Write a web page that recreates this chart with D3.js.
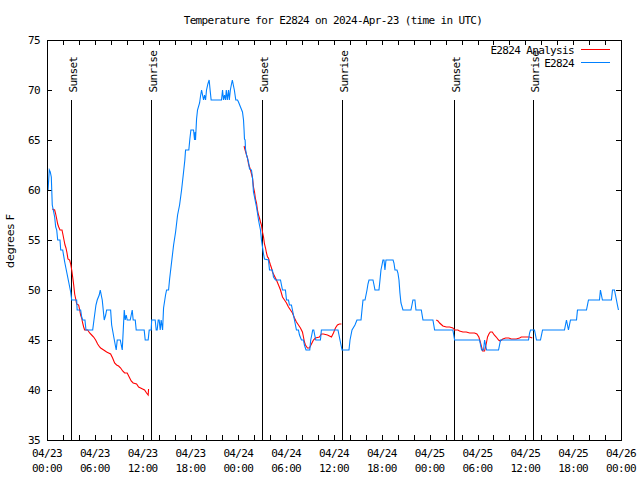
<!DOCTYPE html>
<html>
<head>
<meta charset="utf-8">
<script src="https://cdn.jsdelivr.net/npm/d3@7"></script>
<style>
  html, body { margin: 0; padding: 0; background: #fff; }
  svg { display: block; }
  .mono { font-family: "DejaVu Sans Mono", "Liberation Mono", monospace; font-size: 11px; letter-spacing: -0.65px; fill: #000; }
</style>
</head>
<body>
<svg id="chart" width="640" height="480"></svg>
<script>
// ---------------- data (hours since 2024-04-23 00:00 UTC, degrees F) ----------------
const title = "Temperature for E2824 on 2024-Apr-23 (time in UTC)";
const yLabel = "degrees F";
const seriesNames = ["E2824 Analysis", "E2824"];
const yTicks = [35, 40, 45, 50, 55, 60, 65, 70, 75];
const xTickDays  = ["04/23","04/23","04/23","04/23","04/24","04/24","04/24","04/24","04/25","04/25","04/25","04/25","04/26"];
const xTickTimes = ["00:00","06:00","12:00","18:00","00:00","06:00","12:00","18:00","00:00","06:00","12:00","18:00","00:00"];
const sunsetHours  = [3.05, 26.98, 51.04];
const sunriseHours = [13.07, 37.0, 60.94];

// observed station temperatures
const e2824 = [
 [0.13,60],[0.29,62],[0.41,61.8],[0.54,61.3],[0.66,58.5],[0.79,58],[0.96,57.3],[1.09,56.3],[1.22,56],[1.34,55],
 [1.63,55],[1.72,54],[1.97,54],[2.22,52.8],[2.47,51.8],[2.72,50.8],[2.97,49.8],[3.10,49],[3.72,49],[3.78,48],
 [4.22,48],[4.35,47.3],[4.47,47],[4.76,47],[4.89,46],[5.73,46],[5.89,47],[6.14,48.5],[6.30,49],[6.55,49.5],
 [6.68,50],[6.93,49],[7.18,47],[7.36,47.5],[7.48,48],[7.98,48],[8.11,46.5],[8.40,45.2],[8.68,44],[8.81,45],
 [9.19,45],[9.44,44],[9.69,48],[9.81,47],[9.94,47.5],[10.06,47],[10.44,47],[10.69,48],[10.81,47],[11.07,47],
 [11.19,46],[12.19,46],[12.32,45],[12.69,45],[12.82,46],[13.07,46],[13.13,47],[13.57,47],[13.70,46],[13.82,46],
 [13.95,47],[14.07,47],[14.20,46],[14.32,47],[14.50,46],[14.62,48.2],[14.87,49.5],[15.00,50],[15.25,50],[15.38,51.1],
 [15.63,52.8],[15.88,54.5],[16.13,55.8],[16.38,57.5],[16.63,58.5],[16.88,60],[17.13,61.8],[17.29,63],[17.38,64],[17.79,64],
 [17.92,65.1],[18.05,66],[18.38,66],[18.51,65],[18.58,65.8],[18.63,65],[18.76,67.1],[18.88,68],[19.14,68.7],[19.26,69.4],
 [19.39,70],[19.51,69.5],[19.64,69],[19.76,69.5],[19.89,69],[20.01,70],[20.18,70.6],[20.34,71],[20.46,70],[20.59,69],
 [21.89,69],[22.02,70],[22.14,69],[22.27,69.5],[22.39,69],[22.49,70],[22.62,69],[22.77,70],[22.87,69],[23.00,70],
 [23.12,70.5],[23.25,71],[23.37,70.5],[23.50,70],[23.68,69],[23.90,69],[24.02,68.8],[24.27,68.3],[24.52,67.8],[24.65,67],
 [24.72,66],[24.77,65.1],[24.85,65],[24.90,64.1],[25.03,63.5],[25.28,62.8],[25.40,62.1],[25.65,62],[25.78,61.2],[25.90,59.8],
 [26.03,59.3],[26.15,58.8],[26.28,58.3],[26.40,57.7],[26.53,57],[26.65,56.5],[26.78,56],[26.90,55],[27.03,54.3],[27.16,53.6],
 [27.28,53.1],[27.78,53],[27.91,52],[28.28,52],[28.41,51.3],[28.66,51],[29.29,51],[29.41,50.5],[29.54,50],[29.91,50],
 [30.04,49],[30.29,49],[30.41,48.5],[30.66,48.5],[30.79,48],[31.04,47],[31.29,46],[31.54,46],[31.67,45.5],[31.92,45],
 [32.17,45],[32.29,44.5],[32.49,44],[32.96,44],[33.08,45],[33.21,45.5],[33.33,46],[33.46,46],[33.58,45.5],[33.71,45],
 [34.30,45],[34.42,46],[36.50,46],[36.75,45],[36.88,44.5],[37.01,44],[37.88,44],[38.01,45],[38.26,46],[38.63,46.5],
 [38.88,47],[39.39,47],[39.51,48],[39.64,49],[39.89,49],[40.14,50],[40.26,50.6],[40.39,51],[40.89,51],[41.02,50.5],
 [41.14,50],[41.64,50],[41.77,51],[41.89,52],[42.02,52.5],[42.14,53],[42.27,53],[42.39,52],[42.52,53],[43.41,53],
 [43.52,52.7],[43.65,52],[43.90,52],[44.02,51.7],[44.15,51],[44.27,49.7],[44.40,48.7],[44.65,48],[45.65,48],[45.78,48.5],
 [45.90,49],[46.15,49],[46.28,48],[46.95,48],[47.16,47],[48.41,47],[48.62,46],[50.91,46],[51.13,45],[54.26,45],
 [54.51,44],[54.76,44],[54.89,45],[55.01,44.5],[55.14,44],[56.64,44],[56.89,45],[60.40,45],[60.53,45.7],[60.65,46],
 [61.15,46],[61.40,45],[61.90,45],[62.16,46],[64.91,46],[65.16,47],[65.41,46],[65.66,47],[66.42,47],[66.54,48],
 [67.67,48],[67.92,49],[69.30,49],[69.42,50],[69.67,49],[70.80,49],[70.93,50],[71.18,50],[71.43,49],[71.55,48.5],
 [71.68,48]
];

// analysis (three separate overnight segments)
const analysisNight1 = [
 [0.66,58.1],[0.96,58],[1.09,57.6],[1.22,57.1],[1.34,56.6],[1.47,56.3],[1.63,56],[1.88,56],[2.01,55.5],[2.13,55],
 [2.26,54.5],[2.38,54.2],[2.51,53.7],[2.63,53.1],[2.84,53],[2.97,52.6],[3.10,52],[3.22,51.3],[3.35,50.5],[3.47,49.6],
 [3.60,49.1],[3.72,48.6],[3.97,48.5],[4.10,48],[4.22,47.5],[4.35,47.2],[4.47,46.7],[4.60,46.3],[4.72,46],[5.10,46],
 [5.35,45.7],[5.60,45.5],[5.85,45.3],[6.10,45],[6.35,44.6],[6.60,44.3],[6.73,44.2],[7.11,44],[7.48,43.8],[7.73,43.7],
 [7.98,43.6],[8.23,43.2],[8.48,42.7],[8.73,42.5],[8.98,42.4],[9.24,42.2],[9.49,41.9],[9.74,41.7],[10.06,41.7],[10.31,41.3],
 [10.56,40.9],[10.81,40.7],[11.24,40.6],[11.49,40.3],[11.74,40.2],[11.99,40.1],[12.24,40],[12.49,39.7],[12.69,39.5],[12.74,40.1]
];
const analysisNight2 = [
 [24.72,64.4],[24.85,64],[25.03,63.5],[25.15,63.2],[25.28,62.6],[25.53,62],[25.78,61.2],[25.90,60.3],[26.03,59.8],[26.15,59.1],
 [26.28,58.7],[26.40,58],[26.53,57.5],[26.65,57.2],[26.78,56.8],[26.90,56.5],[27.03,55.8],[27.16,55.3],[27.28,54.6],[27.41,54.2],
 [27.53,53.7],[27.66,53.3],[27.78,53.2],[27.91,52.8],[28.03,52.5],[28.16,52.2],[28.28,51.8],[28.78,51],[29.04,50.5],[29.29,50],
 [29.54,49.3],[29.79,49],[30.04,48.7],[30.29,48.3],[30.54,48],[30.79,47.7],[31.04,47.2],[31.29,46.8],[31.54,46.5],[31.79,46.2],
 [32.04,45.8],[32.17,45.3],[32.29,44.8],[32.42,44.5],[32.67,44.2],[32.92,44.2],[33.17,44.6],[33.42,45],[33.67,45.2],[34.17,45.3],
 [34.42,45.6],[34.67,45.6],[35.18,45.5],[35.43,45.4],[35.68,45.3],[35.93,45.7],[36.18,46.2],[36.43,46.5],[36.68,46.6],[36.93,46.6]
];
const analysisNight3 = [
 [48.83,47],[49.04,46.9],[49.25,46.7],[49.66,46.4],[50.09,46.3],[50.50,46.3],[50.91,46.2],[51.13,46],[51.54,46],[51.75,45.9],
 [52.17,45.8],[52.59,45.8],[53.01,45.7],[53.63,45.7],[53.92,45.6],[54.17,45.3],[54.35,44.8],[54.51,44.3],[54.64,43.9],[54.89,43.9],
 [55.01,44.3],[55.14,44.8],[55.26,45.3],[55.43,45.6],[55.60,45.8],[55.85,45.8],[56.10,45.5],[56.35,45.3],[56.64,45],[56.85,44.9],
 [57.18,45.1],[57.52,45.2],[57.93,45.2],[58.23,45.1],[58.86,45.1],[59.27,45.2],[59.49,45.3],[60.11,45.3],[60.53,45.3],[60.87,45.2]
];

// ---------------- drawing ----------------
const W = 640, H = 480;
const plot = { left: 47, right: 621, top: 40, bottom: 440 };
const start = Date.UTC(2024, 3, 23, 0, 0);
const toDate = h => new Date(start + h * 3600e3);

const x = d3.scaleUtc().domain([toDate(0), toDate(72)]).range([plot.left, plot.right]);
const y = d3.scaleLinear().domain([35, 75]).range([plot.bottom, plot.top]);

const svg = d3.select("#chart");
svg.append("rect").attr("width", W).attr("height", H).attr("fill", "#fff");

const tickHours = d3.range(0, 73, 2);
const labelHours = d3.range(0, 73, 6);
const TL = 5;

const axes = svg.append("g").attr("shape-rendering", "crispEdges").attr("stroke", "#000").attr("stroke-width", 1);
// x ticks bottom & top (inward)
axes.selectAll("line.xb").data(tickHours).join("line")
  .attr("x1", h => Math.round(x(toDate(h))) + 0.5).attr("x2", h => Math.round(x(toDate(h))) + 0.5)
  .attr("y1", plot.bottom).attr("y2", plot.bottom - TL);
axes.selectAll("line.xt").data(tickHours).join("line")
  .attr("x1", h => Math.round(x(toDate(h))) + 0.5).attr("x2", h => Math.round(x(toDate(h))) + 0.5)
  .attr("y1", plot.top).attr("y2", plot.top + TL);
// y ticks left & right
axes.selectAll("line.yl").data(yTicks).join("line")
  .attr("x1", plot.left).attr("x2", plot.left + TL)
  .attr("y1", d => Math.round(y(d)) + 0.5).attr("y2", d => Math.round(y(d)) + 0.5);
axes.selectAll("line.yr").data(yTicks).join("line")
  .attr("x1", plot.right).attr("x2", plot.right - TL)
  .attr("y1", d => Math.round(y(d)) + 0.5).attr("y2", d => Math.round(y(d)) + 0.5);

// tick labels
svg.selectAll("text.ytl").data(yTicks).join("text").attr("class", "mono")
  .attr("x", plot.left - 7).attr("y", d => y(d) + 4).attr("text-anchor", "end").text(d => d);
const xl = svg.selectAll("g.xtl").data(labelHours).join("g")
  .attr("transform", h => `translate(${x(toDate(h))},0)`);
xl.append("text").attr("class", "mono").attr("text-anchor", "middle").attr("y", 457).text((h, i) => xTickDays[i]);
xl.append("text").attr("class", "mono").attr("text-anchor", "middle").attr("y", 472).text((h, i) => xTickTimes[i]);

// sunrise / sunset markers
const sunEvents = sunsetHours.map(h => ({ h, label: "Sunset" }))
  .concat(sunriseHours.map(h => ({ h, label: "Sunrise" })));
svg.append("g").attr("shape-rendering", "crispEdges").selectAll("line").data(sunEvents).join("line")
  .attr("x1", d => Math.round(x(toDate(d.h))) + 0.5).attr("x2", d => Math.round(x(toDate(d.h))) + 0.5)
  .attr("y1", y(35)).attr("y2", y(69.05)).attr("stroke", "#000").attr("stroke-width", 1);
svg.selectAll("text.sun").data(sunEvents).join("text").attr("class", "mono")
  .attr("text-anchor", "start")
  .attr("transform", d => `translate(${Math.round(x(toDate(d.h))) + 5.5},${y(69.75)}) rotate(-90)`)
  .text(d => d.label);

// data lines
const line = d3.line().x(d => x(toDate(d[0]))).y(d => y(d[1]));
const dataG = svg.append("g").attr("fill", "none").attr("stroke-width", 1.1).attr("stroke-linejoin", "miter");
[analysisNight1, analysisNight2, analysisNight3].forEach(seg => {
  dataG.append("path").datum(seg).attr("d", line).attr("stroke", "#ff0000");
});
dataG.append("path").datum(e2824).attr("d", line).attr("stroke", "#0080ff");

// border
svg.append("rect").attr("x", plot.left + 0.5).attr("y", plot.top + 0.5)
  .attr("width", plot.right - plot.left).attr("height", plot.bottom - plot.top)
  .attr("fill", "none").attr("stroke", "#000").attr("shape-rendering", "crispEdges");

// legend
const legendColors = ["#ff0000", "#0080ff"];
const lg = svg.selectAll("g.leg").data(seriesNames).join("g")
  .attr("transform", (d, i) => `translate(0,${50 + i * 13})`);
lg.append("text").attr("class", "mono").attr("x", 574).attr("y", 4).attr("text-anchor", "end").text(d => d);
lg.append("line").attr("x1", 581).attr("x2", 610).attr("y1", -0.5).attr("y2", -0.5)
  .attr("stroke", (d, i) => legendColors[i]).attr("stroke-width", 1).attr("shape-rendering", "crispEdges");

// title and axis label
svg.append("text").attr("class", "mono").attr("x", 333).attr("y", 24).attr("text-anchor", "middle").text(title);
svg.append("text").attr("transform", "translate(14,241) rotate(-90)")
  .attr("text-anchor", "middle")
  .style("font-family", "'DejaVu Sans', sans-serif").style("font-size", "11px").text(yLabel);
</script>
</body>
</html>
